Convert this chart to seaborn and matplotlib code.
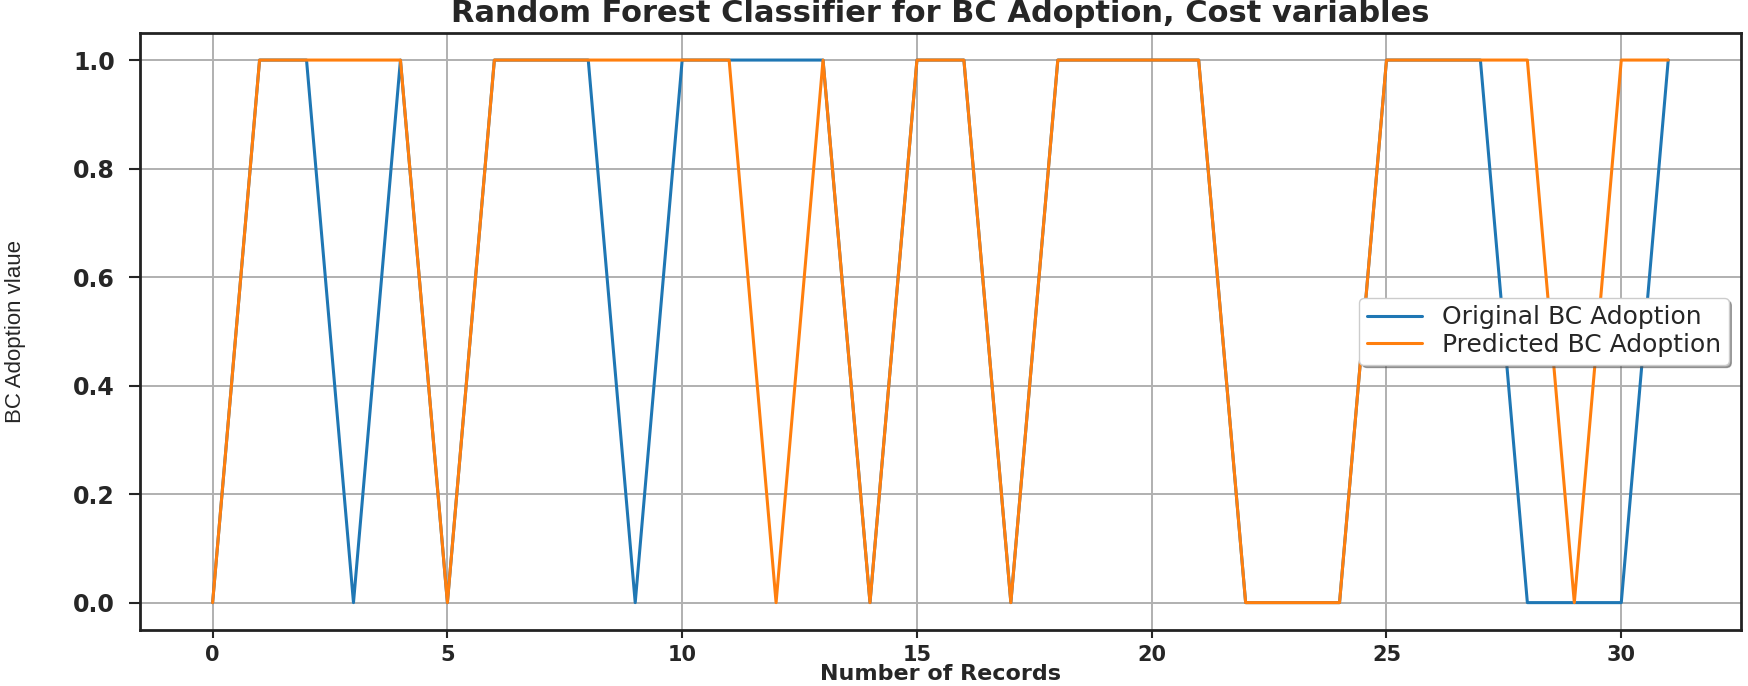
import matplotlib
matplotlib.use("Agg")
import matplotlib.pyplot as plt
import seaborn as sns
import pandas as pd
import numpy as np

records = list(range(32))
original = [0, 1, 1, 0, 1, 0, 1, 1, 1, 0, 1, 1, 1, 1, 0, 1,
            1, 0, 1, 1, 1, 1, 0, 0, 0, 1, 1, 1, 0, 0, 0, 1]
predicted = [0, 1, 1, 1, 1, 0, 1, 1, 1, 1, 1, 1, 0, 1, 0, 1,
             1, 0, 1, 1, 1, 1, 0, 0, 0, 1, 1, 1, 1, 0, 1, 1]
series_names = ["Original BC Adoption", "Predicted BC Adoption"]
x_ticks = [0, 5, 10, 15, 20, 25, 30]
y_ticks = [0.0, 0.2, 0.4, 0.6, 0.8, 1.0]

sns.set_style("ticks")
plt.rcParams['font.family'] = ['DejaVu Sans']

df = pd.DataFrame({
    "x": records * 2,
    "y": original + predicted,
    "series": [series_names[0]] * len(records) + [series_names[1]] * len(records),
})

fig = plt.figure(figsize=(17.48, 6.86), dpi=100)
ax = fig.add_axes([0.080, 0.082, 0.916, 0.870])
sns.lineplot(data=df, x="x", y="y", hue="series",
             palette=["#1f77b4", "#ff7f0e"], linewidth=2.2, ax=ax)
ax.grid(True, color="#b0b0b0", linewidth=1.4)
ax.set_xlim(-1.55, 32.55)
ax.set_ylim(-0.05, 1.05)
ax.set_xticks(x_ticks)
ax.set_xticklabels([str(t) for t in x_ticks], fontsize=15, fontweight="bold")
ax.set_yticks(y_ticks)
ax.set_yticklabels([f"{t:.1f}" for t in y_ticks], fontsize=17, fontweight="bold")
ax.tick_params(axis="x", width=1.5, length=6, pad=5)
ax.tick_params(axis="y", width=1.5, length=8, pad=10)
for s in ax.spines.values():
    s.set_visible(True)
    s.set_linewidth(2.0)
    s.set_color("#222222")
ax.set_xlabel("Number of Records", fontsize=16, fontweight="bold")
ax.xaxis.set_label_coords(0.5, -0.058)
ax.set_ylabel("BC Adoption vlaue", fontsize=16,
              family=["Liberation Sans Narrow", "Liberation Sans", "DejaVu Sans"])
ax.yaxis.set_label_coords(-0.071, 0.5)
ax.set_title("Random Forest Classifier for BC Adoption, Cost variables",
             fontsize=22, fontweight="semibold", pad=8)
leg = ax.legend(loc="center right", fontsize=18, shadow=True, frameon=True,
                labelspacing=0.15, borderpad=0.3, handlelength=2.2)
leg.set_title(None)
fig.savefig("out.png", dpi=100)
